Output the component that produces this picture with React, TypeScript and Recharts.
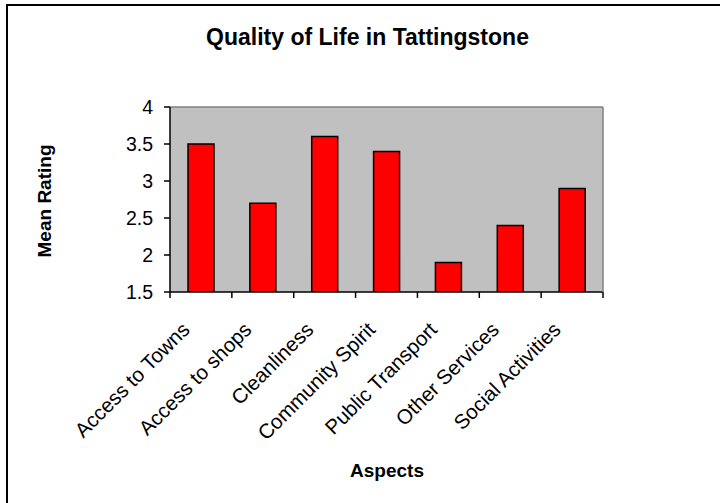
import React from 'react';
import { BarChart, Bar, XAxis, YAxis, CartesianGrid, ReferenceLine, Customized } from 'recharts';

const categories = [
  'Access to Towns',
  'Access to shops',
  'Cleanliness',
  'Community Spirit',
  'Public Transport',
  'Other Services',
  'Social Activities',
];
const meanRatings = [3.5, 2.7, 3.6, 3.4, 1.9, 2.4, 2.9];
const yTicks = [1.5, 2, 2.5, 3, 3.5, 4];
const chartTitle = 'Quality of Life in Tattingstone';
const xTitle = 'Aspects';
const yTitle = 'Mean Rating';

const data = categories.map((c, i) => ({ name: c, value: meanRatings[i] }));

const FONT = '"Liberation Sans", Arial, sans-serif';
const W = 720;
const H = 503;
const PLOT_LEFT = 170;
const PLOT_RIGHT = 603;
const PLOT_TOP = 107;
const PLOT_BOTTOM = 292;
const BAND = (PLOT_RIGHT - PLOT_LEFT) / categories.length;

const XTick = (props: any) => {
  const { x, y, payload, index } = props;
  const tx = x - 10;
  const ty = y + 39;
  return (
    <g>
      <line x1={x - BAND / 2} x2={x - BAND / 2} y1={y} y2={y + 6} stroke="#000" strokeWidth={1.5} />
      {index === categories.length - 1 && (
        <line x1={x + BAND / 2} x2={x + BAND / 2} y1={y} y2={y + 6} stroke="#000" strokeWidth={1.5} />
      )}
      <text
        x={tx}
        y={ty}
        transform={`rotate(-45, ${tx}, ${ty})`}
        textAnchor="end"
        fontSize={20.5}
        fontFamily={FONT}
        fill="#000"
      >
        {payload.value}
      </text>
    </g>
  );
};

const Titles = () => (
  <g>
    <text x={367.5} y={45} textAnchor="middle" fontSize={23} fontWeight="bold" fontFamily={FONT} fill="#000">
      {chartTitle}
    </text>
    <text x={387} y={477} textAnchor="middle" fontSize={19} fontWeight="bold" fontFamily={FONT} fill="#000">
      {xTitle}
    </text>
    <text
      x={51}
      y={201}
      transform="rotate(-90, 51, 201)"
      textAnchor="middle"
      fontSize={19}
      fontWeight="bold"
      fontFamily={FONT}
      fill="#000"
    >
      {yTitle}
    </text>
  </g>
);

export default function App() {
  return (
    <div style={{ position: 'absolute', left: 0, top: 0, width: W, height: H, background: '#fff', overflow: 'hidden' }}>
      <div
        style={{
          position: 'absolute',
          left: 6,
          top: 4,
          width: W + 20,
          height: H + 20,
          borderLeft: '2px solid #000',
          borderTop: '2px solid #000',
        }}
      />
      <div style={{ position: 'absolute', left: 0, top: 0 }}>
        <BarChart
          width={W}
          height={H}
          data={data}
          margin={{ top: PLOT_TOP, right: 0, bottom: 0, left: 0 }}
        >
          <CartesianGrid yAxisId="left" fill="#C0C0C0" horizontal={false} vertical={false} stroke="none" />
          <XAxis
            dataKey="name"
            interval={0}
            height={H - PLOT_BOTTOM}
            tickLine={false}
            tickSize={0}
            tickMargin={0}
            axisLine={{ stroke: '#000', strokeWidth: 1.5 }}
            tick={<XTick />}
          />
          <YAxis
            yAxisId="left"
            width={PLOT_LEFT}
            domain={[1.5, 4]}
            ticks={yTicks}
            interval={0}
            allowDataOverflow
            tickSize={6}
            tickMargin={11}
            tickLine={{ stroke: '#000', strokeWidth: 1.5 }}
            axisLine={{ stroke: '#000', strokeWidth: 1.5 }}
            tick={{ fontSize: 19.5, fontFamily: FONT, fill: '#000' }}
          />
          <YAxis
            yAxisId="right"
            orientation="right"
            width={W - PLOT_RIGHT}
            domain={[1.5, 4]}
            tick={false}
            tickLine={false}
            axisLine={{ stroke: '#808080', strokeWidth: 1.5 }}
          />
          <ReferenceLine yAxisId="left" y={4} stroke="#808080" strokeWidth={1.5} />
          <Bar
            yAxisId="left"
            dataKey="value"
            fill="#FF0000"
            stroke="#000"
            strokeWidth={1.5}
            barSize={26}
            isAnimationActive={false}
          />
          <Customized component={Titles} />
        </BarChart>
      </div>
    </div>
  );
}
